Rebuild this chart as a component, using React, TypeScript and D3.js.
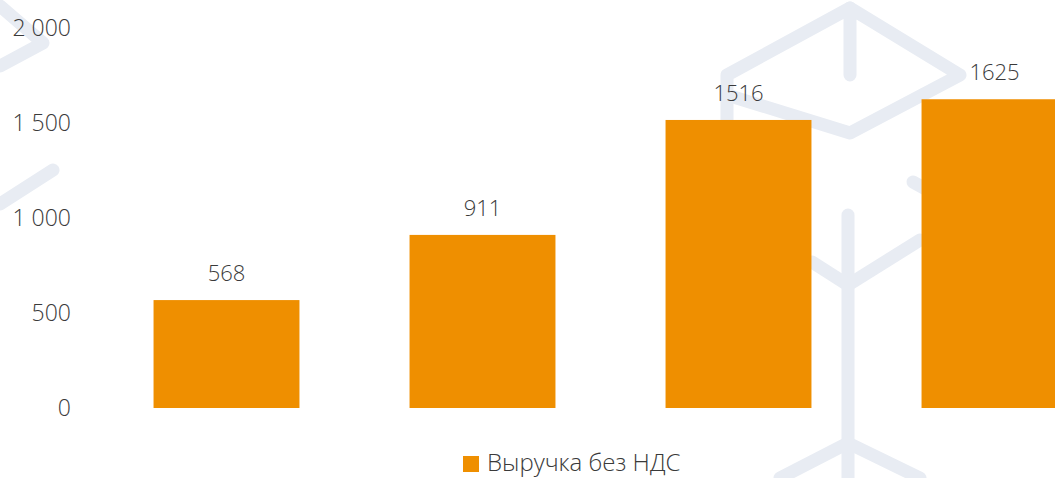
import React, { useEffect, useRef } from "react";
import * as d3 from "d3";

// periods are not labelled on the chart itself
const periods = ["p1", "p2", "p3", "p4"];
const revenue = [568, 911, 1516, 1625];
const yTicks = [0, 500, 1000, 1500, 2000];
const seriesName = "Выручка без НДС";

const W = 1055;
const H = 478;
const orange = "#EF8F00";
const textColor = "#3a3a3a";
const font = "'Open Sans', 'Segoe UI', sans-serif";

// faint background watermark (decor only)
const watermark = [
  "M0,6 L43,43 L0,66",
  "M0,204 L53,170",
  "M850,8 L727,75 L727,150",
  "M727,95 L850,133 L960,75 L850,8 L850,75",
  "M848,215 L848,478",
  "M812,262 L848,285 L920,240",
  "M780,478 L848,443 L920,478",
  "M913,182 L1000,230",
];

export default function App() {
  const svgRef = useRef<SVGSVGElement>(null);

  useEffect(() => {
    const svg = d3.select(svgRef.current);
    svg.selectAll("*").remove();

    svg
      .append("g")
      .selectAll("path")
      .data(watermark)
      .enter()
      .append("path")
      .attr("d", (d) => d)
      .attr("fill", "none")
      .attr("stroke", "#E8ECF3")
      .attr("stroke-width", 13)
      .attr("stroke-linecap", "round")
      .attr("stroke-linejoin", "round");

    const x = d3
      .scaleBand()
      .domain(periods)
      .range([98.5, 1122.5])
      .paddingInner(0.43)
      .paddingOuter(0.215);

    const y = d3.scaleLinear().domain([0, 2000]).range([408, 28]);

    const fmt = (v: number) => d3.format(",")(v).replace(/,/g, " ");

    // y labels
    svg
      .append("g")
      .selectAll("text")
      .data(yTicks)
      .enter()
      .append("text")
      .attr("x", 71)
      .attr("y", (d) => y(d))
      .attr("dy", "0.36em")
      .attr("text-anchor", "end")
      .attr("font-family", font)
      .attr("font-weight", 300)
      .attr("font-size", 23)
      .attr("fill", textColor)
      .text((d) => fmt(d));

    // bars
    svg
      .append("g")
      .selectAll("rect")
      .data(revenue)
      .enter()
      .append("rect")
      .attr("x", (d, i) => x(periods[i])!)
      .attr("y", (d) => y(d))
      .attr("width", x.bandwidth())
      .attr("height", (d) => y(0) - y(d))
      .attr("fill", orange);

    // value labels
    svg
      .append("g")
      .selectAll("text")
      .data(revenue)
      .enter()
      .append("text")
      .attr("x", (d, i) => x(periods[i])! + x.bandwidth() / 2)
      .attr("y", (d) => y(d) - 19)
      .attr("text-anchor", "middle")
      .attr("font-family", font)
      .attr("font-weight", 300)
      .attr("font-size", 22)
      .attr("fill", textColor)
      .text((d) => d);

    // legend
    const legend = svg.append("g").attr("transform", "translate(463,456)");
    legend.append("rect").attr("width", 16).attr("height", 16).attr("fill", orange);
    legend
      .append("text")
      .attr("x", 24)
      .attr("y", 15)
      .attr("font-family", font)
      .attr("font-weight", 300)
      .attr("font-size", 24)
      .attr("fill", textColor)
      .text(seriesName);
  }, []);

  return (
    <svg
      ref={svgRef}
      width={W}
      height={H}
      style={{ position: "absolute", left: 0, top: 0, background: "#fff" }}
    ></svg>
  );
}
